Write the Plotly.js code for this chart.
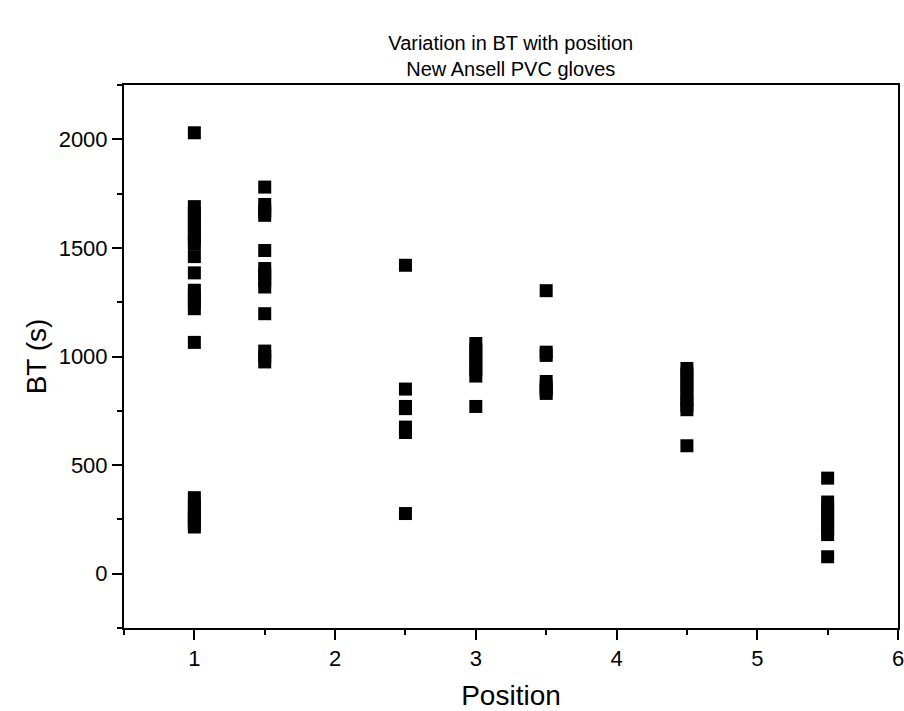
<!DOCTYPE html>
<html>
<head>
<meta charset="utf-8">
<script src="https://cdn.plot.ly/plotly-3.0.1.min.js"></script>
<style>html,body{margin:0;padding:0;background:#fff;}#chart{width:904px;height:711px;}</style>
</head>
<body>
<div id="chart"></div>
<script>
// Breakthrough times (s) observed at each glove position
const pos1   = [2030, 1690, 1660, 1630, 1600, 1570, 1540, 1520, 1460, 1385, 1305, 1280, 1250, 1220, 1065, 350, 320, 290, 270, 250, 230, 215];
const pos1_5 = [1780, 1700, 1670, 1650, 1488, 1405, 1380, 1350, 1320, 1197, 1025, 1000, 975];
const pos2_5 = [1420, 850, 770, 760, 675, 650, 277];
const pos3   = [1060, 1030, 1000, 970, 940, 910, 770];
const pos3_5 = [1303, 1020, 1005, 885, 860, 845, 830];
const pos4_5 = [945, 920, 890, 860, 830, 800, 775, 755, 589];
const pos5_5 = [440, 330, 300, 270, 240, 210, 180, 78];

const groups = [
  {position: 1,   values: pos1},
  {position: 1.5, values: pos1_5},
  {position: 2.5, values: pos2_5},
  {position: 3,   values: pos3},
  {position: 3.5, values: pos3_5},
  {position: 4.5, values: pos4_5},
  {position: 5.5, values: pos5_5}
];

const xs = [], ys = [];
groups.forEach(g => g.values.forEach(v => { xs.push(g.position); ys.push(v); }));

const trace = {
  x: xs, y: ys, type: 'scatter', mode: 'markers',
  marker: {symbol: 'square', size: 13, color: '#000'},
  hoverinfo: 'x+y'
};

const fontFam = '"Liberation Sans", Arial, sans-serif';
const axisCommon = {
  showline: true, mirror: true, linecolor: '#000', linewidth: 2,
  ticks: 'outside', ticklen: 10, tickwidth: 2, tickcolor: '#000',
  showgrid: false, zeroline: false, ticklabeloverflow: 'allow',
  tickfont: {family: fontFam, size: 22, color: '#000'}
};

const layout = {
  width: 904, height: 711,
  margin: {l: 124, r: 6, t: 85, b: 83},
  paper_bgcolor: '#fff', plot_bgcolor: '#fff',
  showlegend: false,
  font: {family: fontFam, color: '#000'},
  title: {
    text: 'Variation in BT with position<br>New Ansell PVC gloves',
    font: {family: fontFam, size: 20, color: '#000'},
    x: 0.565, xanchor: 'center', y: 0.930, yanchor: 'top'
  },
  xaxis: Object.assign({}, axisCommon, {
    range: [0.5, 6], tick0: 0, dtick: 1,
    minor: {ticks: 'outside', ticklen: 5, tickwidth: 2, tickcolor: '#000', dtick: 0.5, tick0: 0},
    title: {text: 'Position', font: {family: fontFam, size: 28, color: '#000'}, standoff: 19}
  }),
  yaxis: Object.assign({}, axisCommon, {
    range: [-250, 2250], tick0: 0, dtick: 500,
    minor: {ticks: 'outside', ticklen: 5, tickwidth: 2, tickcolor: '#000', dtick: 250, tick0: 0},
    title: {text: 'BT (s)', font: {family: fontFam, size: 28, color: '#000'}, standoff: 4}
  })
};

Plotly.newPlot('chart', [trace], layout, {displayModeBar: false, staticPlot: true});
</script>
</body>
</html>
